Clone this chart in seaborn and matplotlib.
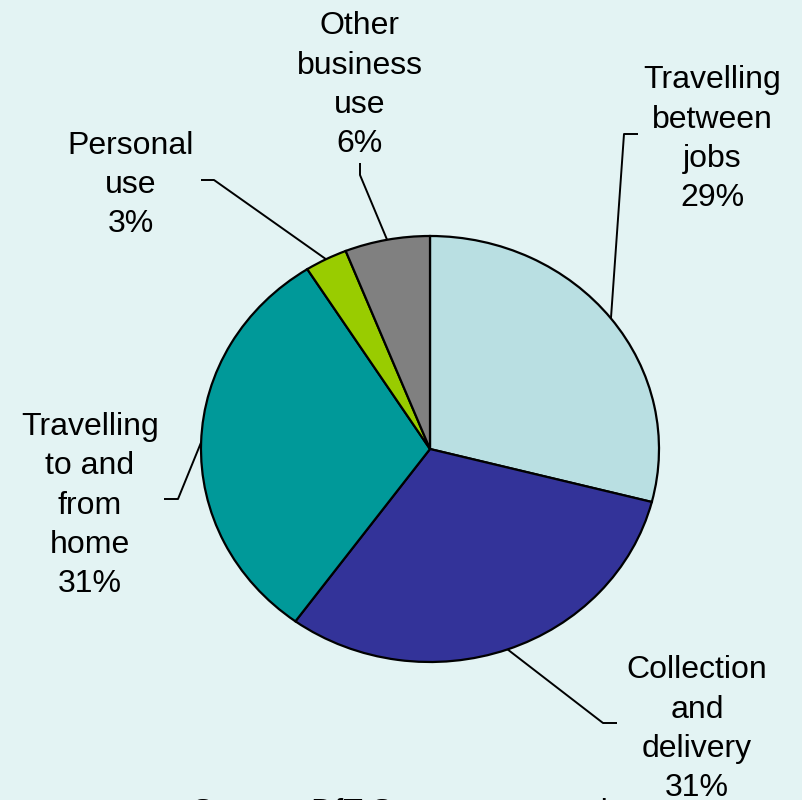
import matplotlib
matplotlib.use("Agg")
import matplotlib.pyplot as plt
import numpy as np
import seaborn as sns

# Van mileage by purpose of trip (percent)
categories = ["Travelling\nbetween\njobs", "Collection\nand\ndelivery",
              "Travelling\nto and\nfrom\nhome", "Personal\nuse",
              "Other\nbusiness\nuse"]
shares = [29, 31, 31, 3, 6]
colors = ["#B9DFE2", "#333399", "#009999", "#99CC00", "#808080"]
source_note = "Source: DfT Survey on vans by use"

BG = "#E3F3F3"

sns.set_theme(style="white")
plt.rcParams["font.family"] = ["Liberation Sans", "DejaVu Sans"]

W, H, DPI = 802, 800, 100
fig = plt.figure(figsize=(W / DPI, H / DPI), dpi=DPI, facecolor=BG)
ax = fig.add_axes([0, 0, 1, 1])
ax.set_facecolor(BG)

# pie centre and radii in pixels (the pie is drawn slightly wide)
CX, CY, RX, RY = 430, 449, 229, 213


def px(x, y):
    """Pixel position (from top-left) -> data coordinates."""
    return (x - CX) / RX, (CY - y) / RY


wedges, _ = ax.pie(shares, colors=colors, startangle=90, counterclock=False,
                   radius=1.0, center=(0, 0),
                   wedgeprops=dict(edgecolor="black", linewidth=1.6))
ax.set_aspect("auto")
ax.set_xlim(-CX / RX, (W - CX) / RX)
ax.set_ylim(-(H - CY) / RY, CY / RY)
ax.axis("off")

# leader-line bends and label anchors (pixels): bend, end, text x, last baseline
layout = [
    dict(bend=(624, 134), end=(638, 134), tx=712, ty=206),
    dict(bend=(603, 723), end=(617, 723), tx=697, ty=796),
    dict(bend=(178, 499), end=(164, 499), tx=90, ty=592),
    dict(bend=(214, 180), end=(201, 180), tx=131, ty=232),
    dict(bend=(360, 175), end=(360, 163), tx=360, ty=152),
]

for w, name, val, lay in zip(wedges, categories, shares, layout):
    mid = np.deg2rad((w.theta1 + w.theta2) / 2)
    x0, y0 = np.cos(mid), np.sin(mid)
    bx, by = px(*lay["bend"])
    ex, ey = px(*lay["end"])
    ax.plot([x0, bx, ex], [y0, by, ey], color="black", lw=1.4,
            solid_capstyle="butt", zorder=3)
    tx, ty = px(lay["tx"], lay["ty"])
    ax.text(tx, ty, f"{name}\n{val}%", ha="center", va="baseline",
            fontsize=23, linespacing=1.4, color="black", zorder=4)

sx, sy = px(192, 821)
ax.text(sx, sy, source_note, ha="left", va="baseline", fontsize=23,
        color="black", clip_on=False)

fig.savefig("out.png", dpi=DPI, facecolor=BG)
